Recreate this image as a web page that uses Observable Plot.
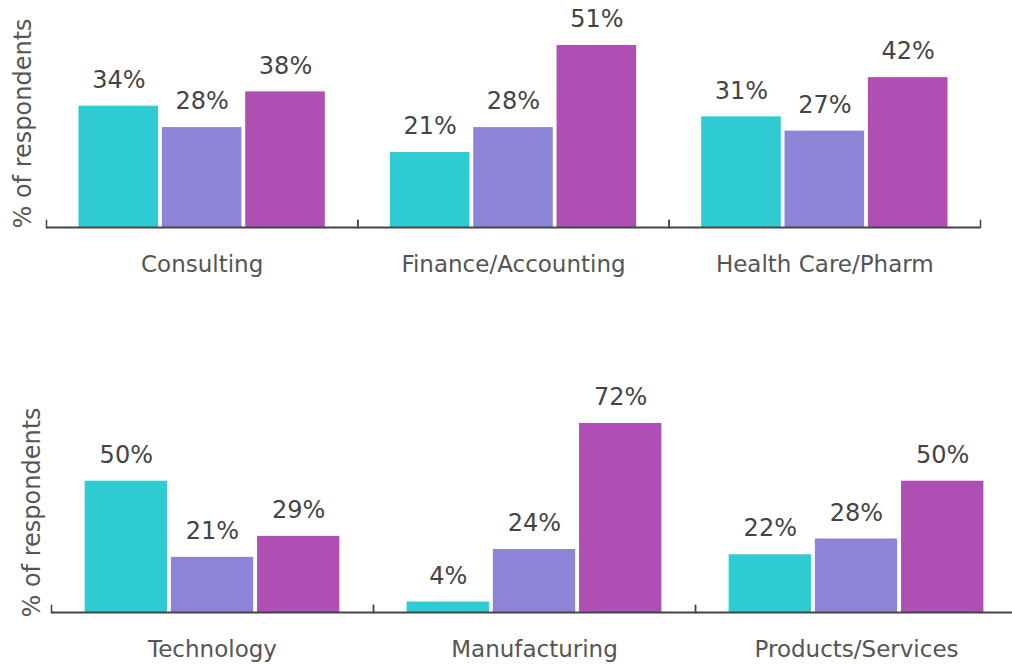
<!DOCTYPE html>
<html>
<head>
<meta charset="utf-8">
<script src="https://cdn.jsdelivr.net/npm/d3@7"></script>
<script src="https://cdn.jsdelivr.net/npm/@observablehq/plot@0.6"></script>
<style>
html, body { margin: 0; padding: 0; background: #fff; overflow: hidden; width: 1012px; height: 664px; }
#chart svg { display: block; max-width: none !important; }
</style>
</head>
<body>
<div id="chart"></div>
<script>
const series = ["Series 1", "Series 2", "Series 3"];
const seriesColors = ["#2ECCD2", "#8C85D7", "#AE4FB3"];

const topCategories = ["Consulting", "Finance/Accounting", "Health Care/Pharm"];
const topSeries1 = [34, 21, 31];
const topSeries2 = [28, 28, 27];
const topSeries3 = [38, 51, 42];

const bottomCategories = ["Technology", "Manufacturing", "Products/Services"];
const bottomSeries1 = [50, 4, 22];
const bottomSeries2 = [21, 24, 28];
const bottomSeries3 = [29, 72, 50];

const yLabel = "% of respondents";

const FONT = "'DejaVu Sans', sans-serif";

function buildRows(cats, s1, s2, s3) {
  const rows = [];
  cats.forEach((c, i) => {
    [s1, s2, s3].forEach((arr, j) => rows.push({category: c, series: series[j], value: arr[i]}));
  });
  return rows;
}

function panel(cats, rows, o) {
  return Plot.plot({
    width: o.width,
    height: o.height,
    marginLeft: o.ml,
    marginRight: o.mr,
    marginTop: o.mt,
    marginBottom: o.mb,
    style: {fontFamily: FONT, background: "white"},
    fx: {domain: cats, padding: 0, axis: null, label: null, round: false},
    x: {domain: series, axis: null, paddingInner: 0.045, paddingOuter: 0.39, round: false},
    y: {domain: [0, o.ymax], axis: null},
    color: {domain: series, range: seriesColors},
    marks: [
      Plot.barY(rows, {fx: "category", x: "series", y: "value", fill: "series"}),
      Plot.text(rows, {fx: "category", x: "series", y: "value", text: d => d.value + "%",
        dy: -26, lineAnchor: "middle", fill: "#444", fontSize: 24}),
      Plot.ruleY([0], {stroke: "#444", strokeWidth: 1.8}),
      Plot.frame({anchor: "left", stroke: "#444", strokeWidth: 1.5, insetTop: o.tickInset}),
      Plot.frame({anchor: "right", stroke: "#444", strokeWidth: 1.5, insetTop: o.tickInset}),
      Plot.axisFx({anchor: "bottom", tickSize: 0, tickPadding: 28, fontSize: 23, color: "#555", label: null}),
      Plot.text([yLabel], {fx: () => cats[0], text: d => d, frameAnchor: "bottom-left",
        rotate: -90, textAnchor: "start", lineAnchor: "middle", dx: o.labelDx, dy: o.labelDy,
        fontSize: 24, fill: "#555"})
    ]
  });
}

const chart = document.getElementById("chart");

chart.appendChild(panel(topCategories, buildRows(topCategories, topSeries1, topSeries2, topSeries3), {
  width: 1012, height: 290, ml: 46, mr: 32, mt: 45, mb: 63, ymax: 51,
  tickInset: 175, labelDx: -23, labelDy: 1
}));

chart.appendChild(panel(bottomCategories, buildRows(bottomCategories, bottomSeries1, bottomSeries2, bottomSeries3), {
  width: 1040, height: 374, ml: 51, mr: 23, mt: 133, mb: 52, ymax: 72,
  tickInset: 182, labelDx: -19, labelDy: 5
}));
</script>
</body>
</html>
